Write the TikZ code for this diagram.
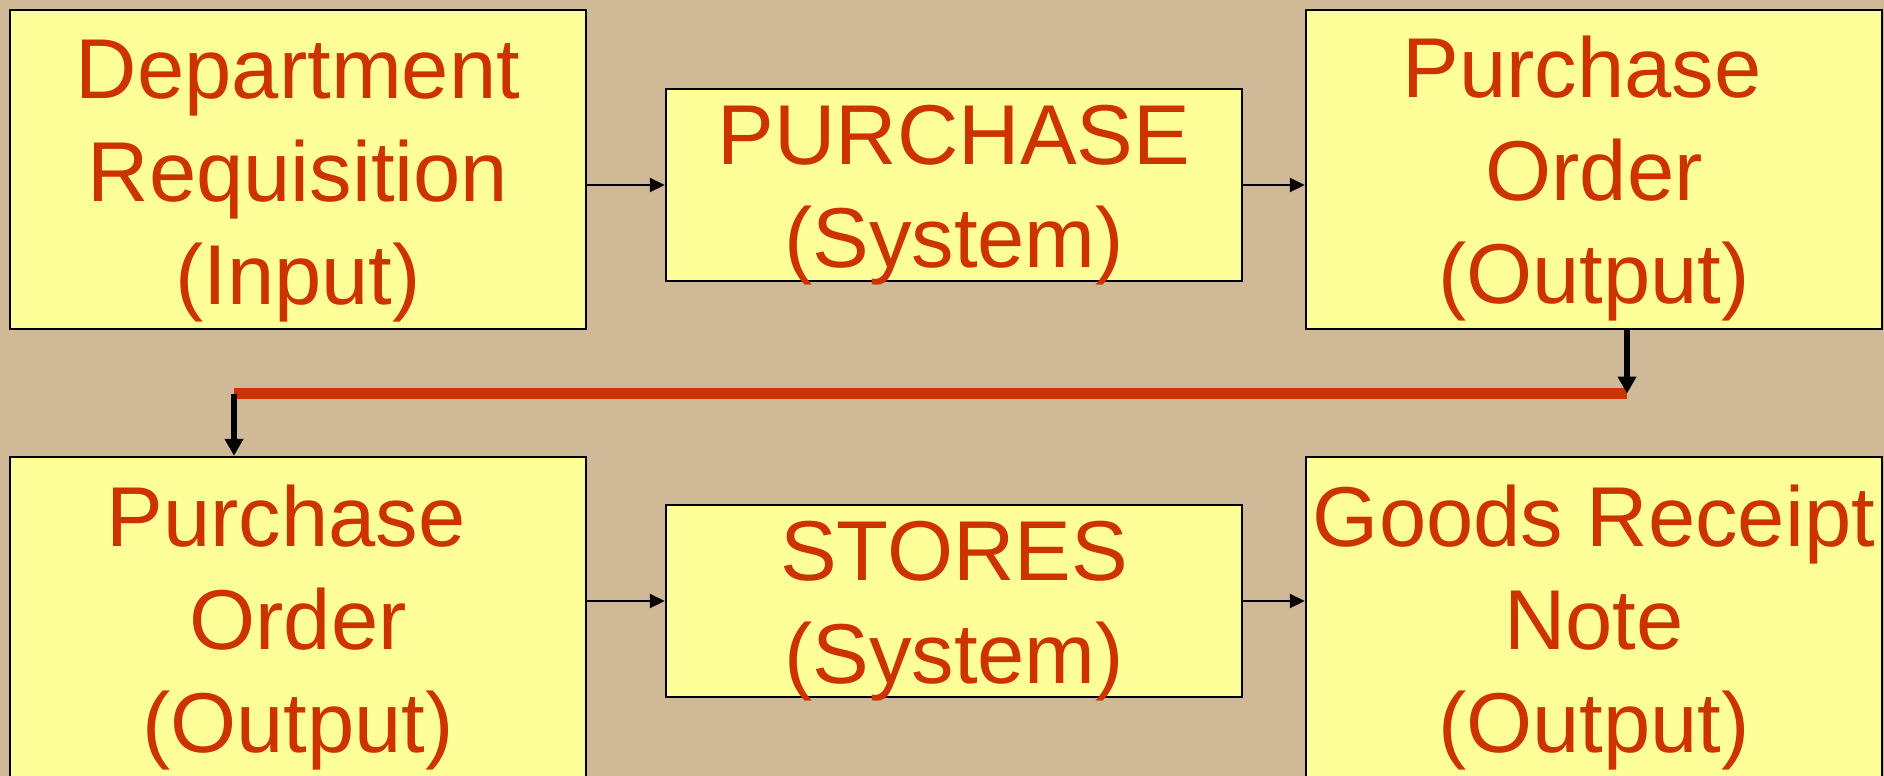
\documentclass[tikz,border=0pt]{standalone}
\usepackage{fontspec}
\setmainfont{Liberation Sans}
\usetikzlibrary{arrows.meta}
\definecolor{bg}{RGB}{207,185,150}
\definecolor{boxfill}{RGB}{255,255,153}
\definecolor{txt}{RGB}{204,51,0}
\begin{document}
\begin{tikzpicture}[x=0.5pt,y=-0.5pt,
  box/.style={draw=black,line width=1.2pt,fill=boxfill,inner sep=0pt,minimum width=288pt},
  lbl/.style={text=txt,font=\fontsize{42.5pt}{51.5pt}\selectfont,align=center,anchor=base,inner sep=0pt},
  thinarrow/.style={line width=1pt,-{Triangle[length=7.5pt,width=7pt]}},
  thickarrow/.style={line width=3pt,-{Triangle[length=8.5pt,width=9pt]}}]
\useasboundingbox (0,0) rectangle (1884,776);
\clip (0,0) rectangle (1884,776);
\fill[bg] (0,0) rectangle (1884,776);
% boxes
\node[box,minimum height=159.5pt] (b1) at (298,169.5) {};
\node[box,minimum height=96pt] (b2) at (954,185) {};
\node[box,minimum height=159.5pt] (b3) at (1594,169.5) {};
\node[box,minimum height=166.5pt] (b4) at (298,623.5) {};
\node[box,minimum height=96pt] (b5) at (954,601) {};
\node[box,minimum height=166.5pt] (b6) at (1594,623.5) {};
% texts (base anchor = baseline of last line)
\node[lbl] (t1) at (298,304) {Department\\Requisition\\(Input)};
\node[lbl] (t2) at (954,267) {PURCHASE\\(System)};
\node[lbl] (t3) at (1594,303) {Purchase\kern0.278em\\Order\\(Output)};
\node[lbl] (t4) at (298,752) {Purchase\kern0.278em\\Order\\(Output)};
\node[lbl] (t5) at (954,683) {STORES\\(System)};
\node[lbl] (t6) at (1594,752) {Goods Receipt\\Note\\(Output)};
% connectors
\coordinate (rl) at (234,393.5);
\coordinate (rr) at (1627,393.5);
\draw[txt,line width=5.5pt] (rl) -- (rr);
\draw[thinarrow] (b1.east |- b2.west) -- (b2.west);
\draw[thinarrow] (b2.east) -- (b2.east -| b3.west);
\draw[thinarrow] (b4.east |- b5.west) -- (b5.west);
\draw[thinarrow] (b5.east) -- (b5.east -| b6.west);
\draw[thickarrow] (b3.south -| rr) -- (rr);
\draw[thickarrow] (rl) -- (rl |- b4.north);
\end{tikzpicture}
\end{document}
